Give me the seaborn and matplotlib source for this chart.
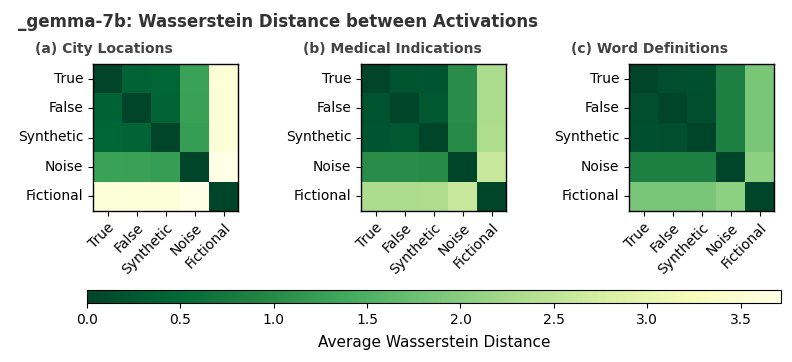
import numpy as np
import matplotlib
matplotlib.use("Agg")
import matplotlib.pyplot as plt
import seaborn as sns
import pandas as pd

labels = ["True", "False", "Synthetic", "Noise", "Fictional"]

city = [
    [0.00, 0.40, 0.44, 1.28, 3.55],
    [0.40, 0.00, 0.42, 1.27, 3.56],
    [0.44, 0.42, 0.00, 1.22, 3.56],
    [1.28, 1.27, 1.22, 0.00, 3.715],
    [3.55, 3.56, 3.56, 3.715, 0.00],
]
medical = [
    [0.00, 0.20, 0.23, 1.02, 2.32],
    [0.20, 0.00, 0.24, 1.03, 2.32],
    [0.23, 0.24, 0.00, 1.01, 2.33],
    [1.02, 1.03, 1.01, 0.00, 2.60],
    [2.32, 2.32, 2.33, 2.60, 0.00],
]
word = [
    [0.00, 0.12, 0.14, 0.85, 1.86],
    [0.12, 0.00, 0.13, 0.85, 1.86],
    [0.14, 0.13, 0.00, 0.85, 1.86],
    [0.85, 0.85, 0.85, 0.00, 2.05],
    [1.86, 1.86, 1.86, 2.05, 0.00],
]
titles = ["(a) City Locations", "(b) Medical Indications", "(c) Word Definitions"]
suptitle = "_gemma-7b: Wasserstein Distance between Activations"
cbar_label = "Average Wasserstein Distance"
cbar_ticks = [0.0, 0.5, 1.0, 1.5, 2.0, 2.5, 3.0, 3.5]

W, H = 792, 362
fig = plt.figure(figsize=(W / 100, H / 100), dpi=100)

vmax = max(np.max(city), np.max(medical), np.max(word))
lefts = [93, 361, 629]
top_px, bot_px = 64, 211
mats = [city, medical, word]
for left, mat, title in zip(lefts, mats, titles):
    ax = fig.add_axes([left / W, 1 - bot_px / H, 145 / W, (bot_px - top_px) / H])
    df = pd.DataFrame(mat, index=labels, columns=labels)
    sns.heatmap(df, ax=ax, cmap="YlGn_r", vmin=0, vmax=vmax, cbar=False)
    for s in ax.spines.values():
        s.set_visible(True)
        s.set_color("black")
        s.set_linewidth(1.0)
    ax.tick_params(axis="both", length=3.5, width=0.8, labelsize=10, colors="black")
    ax.set_xticklabels(labels, rotation=45, ha="right", rotation_mode="anchor")
    ax.set_yticklabels(labels, rotation=0)
    ax.set_xlabel("")
    ax.set_ylabel("")
    ax.text(-0.4, 1.10, title, transform=ax.transAxes, ha="left", va="center",
            fontsize=10, fontweight="bold", color="#444444")

fig.text(18 / W, 1 - 22 / H, suptitle, ha="left", va="center",
         fontsize=12, fontweight="bold", color="#333333")

cax = fig.add_axes([86.7 / W, 1 - 303 / H, 694.3 / W, 13 / H])
sm = plt.cm.ScalarMappable(cmap="YlGn_r", norm=plt.Normalize(0, vmax))
cb = fig.colorbar(sm, cax=cax, orientation="horizontal", ticks=cbar_ticks)
cb.ax.tick_params(labelsize=10, length=3.5)
cb.set_label(cbar_label, fontsize=11, labelpad=6)

fig.savefig("out.png", dpi=100)
